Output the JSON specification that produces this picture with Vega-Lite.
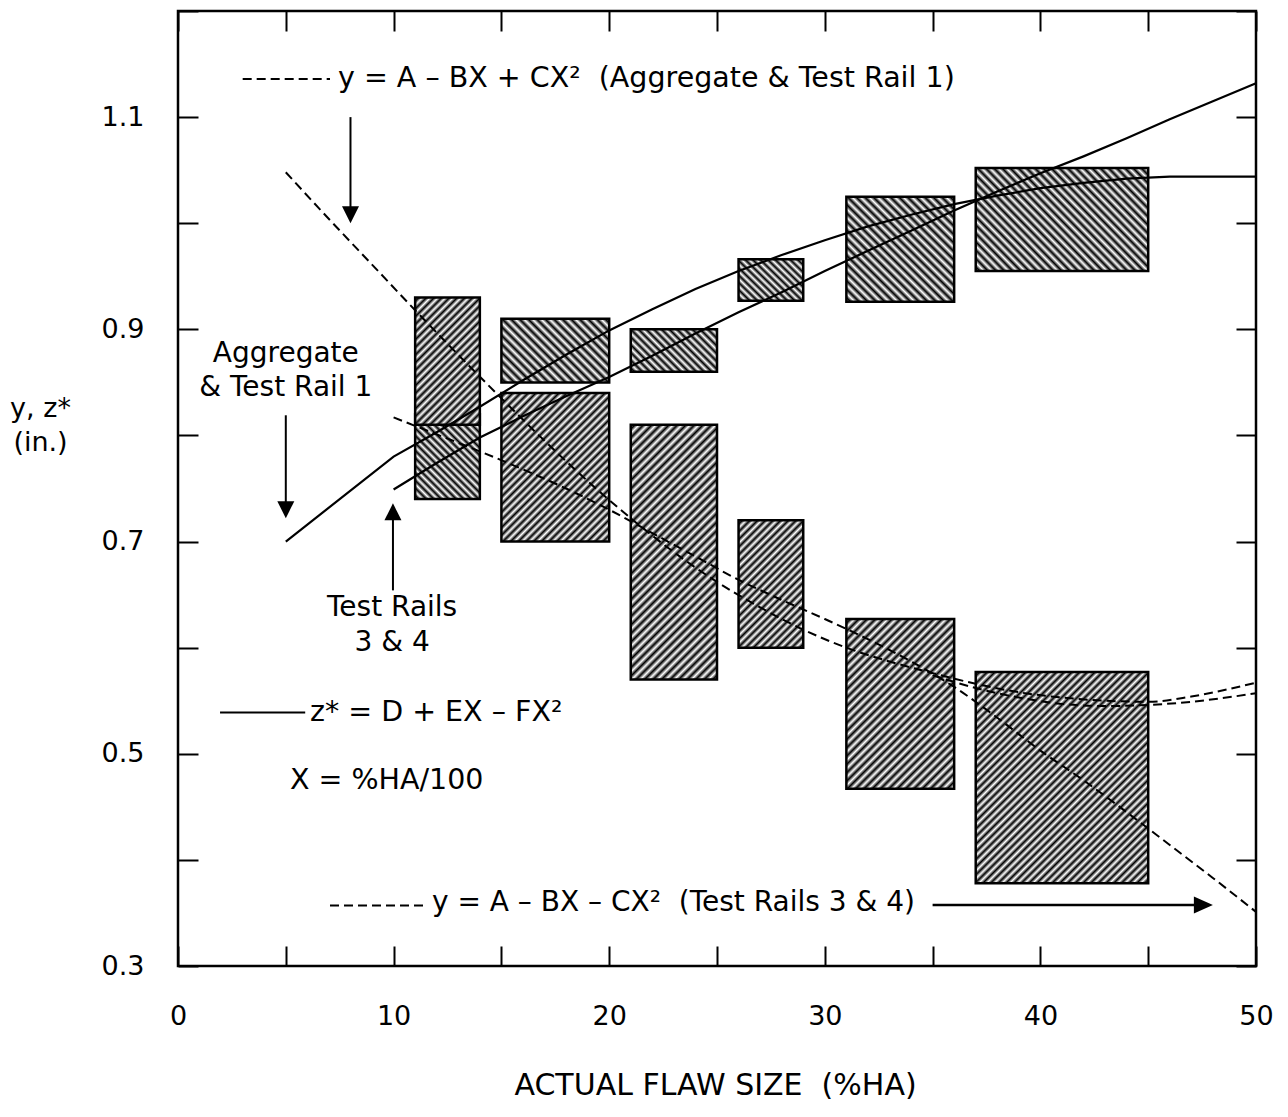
{
"$schema": "https://vega.github.io/schema/vega-lite/v6.json",
"width": 1078, "height": 955,
"autosize": "none",
"padding": {"left": 178, "top": 11, "right": 32, "bottom": 151},
"background": "white",
"config": {
  "view": {"stroke": "#000", "strokeWidth": 2.5},
  "axis": {"domain": false, "grid": false, "tickColor": "#000", "tickWidth": 2, "tickSize": -20, "labelColor": "#000", "labelFont": "DejaVu Sans", "labelFontSize": 27, "titleColor": "#000", "titleFont": "DejaVu Sans", "titleFontWeight": "normal"}
},
"datasets": {
  "boxes": [
    {"id": "A1", "group": "Aggregate & Test Rail 1", "x0": 11, "x1": 14, "lo": 0.74, "hi": 0.82},
    {"id": "T1", "group": "Test Rails 3 & 4", "x0": 11, "x1": 14, "lo": 0.81, "hi": 0.93},
    {"id": "A2", "group": "Aggregate & Test Rail 1", "x0": 15, "x1": 20, "lo": 0.85, "hi": 0.91},
    {"id": "T2", "group": "Test Rails 3 & 4", "x0": 15, "x1": 20, "lo": 0.70, "hi": 0.84},
    {"id": "A3", "group": "Aggregate & Test Rail 1", "x0": 21, "x1": 25, "lo": 0.86, "hi": 0.90},
    {"id": "T3", "group": "Test Rails 3 & 4", "x0": 21, "x1": 25, "lo": 0.57, "hi": 0.81},
    {"id": "A4", "group": "Aggregate & Test Rail 1", "x0": 26, "x1": 29, "lo": 0.927, "hi": 0.966},
    {"id": "T4", "group": "Test Rails 3 & 4", "x0": 26, "x1": 29, "lo": 0.60, "hi": 0.72},
    {"id": "A5", "group": "Aggregate & Test Rail 1", "x0": 31, "x1": 36, "lo": 0.926, "hi": 1.025},
    {"id": "T5", "group": "Test Rails 3 & 4", "x0": 31, "x1": 36, "lo": 0.467, "hi": 0.627},
    {"id": "A6", "group": "Aggregate & Test Rail 1", "x0": 37, "x1": 45, "lo": 0.955, "hi": 1.052},
    {"id": "T6", "group": "Test Rails 3 & 4", "x0": 37, "x1": 45, "lo": 0.378, "hi": 0.577}
  ],
  "curves": [
    {"curve": "z* Aggregate & Test Rail 1", "kind": "solid", "x": 5, "y": 0.700},
    {"curve": "z* Aggregate & Test Rail 1", "kind": "solid", "x": 10, "y": 0.780},
    {"curve": "z* Aggregate & Test Rail 1", "kind": "solid", "x": 12, "y": 0.803},
    {"curve": "z* Aggregate & Test Rail 1", "kind": "solid", "x": 14, "y": 0.827},
    {"curve": "z* Aggregate & Test Rail 1", "kind": "solid", "x": 16, "y": 0.852},
    {"curve": "z* Aggregate & Test Rail 1", "kind": "solid", "x": 18, "y": 0.876},
    {"curve": "z* Aggregate & Test Rail 1", "kind": "solid", "x": 20, "y": 0.899},
    {"curve": "z* Aggregate & Test Rail 1", "kind": "solid", "x": 22, "y": 0.919},
    {"curve": "z* Aggregate & Test Rail 1", "kind": "solid", "x": 24, "y": 0.938},
    {"curve": "z* Aggregate & Test Rail 1", "kind": "solid", "x": 26, "y": 0.955},
    {"curve": "z* Aggregate & Test Rail 1", "kind": "solid", "x": 28, "y": 0.970},
    {"curve": "z* Aggregate & Test Rail 1", "kind": "solid", "x": 30, "y": 0.984},
    {"curve": "z* Aggregate & Test Rail 1", "kind": "solid", "x": 32, "y": 0.997},
    {"curve": "z* Aggregate & Test Rail 1", "kind": "solid", "x": 34, "y": 1.008},
    {"curve": "z* Aggregate & Test Rail 1", "kind": "solid", "x": 36, "y": 1.018},
    {"curve": "z* Aggregate & Test Rail 1", "kind": "solid", "x": 38, "y": 1.026},
    {"curve": "z* Aggregate & Test Rail 1", "kind": "solid", "x": 40, "y": 1.033},
    {"curve": "z* Aggregate & Test Rail 1", "kind": "solid", "x": 42, "y": 1.038},
    {"curve": "z* Aggregate & Test Rail 1", "kind": "solid", "x": 44, "y": 1.042},
    {"curve": "z* Aggregate & Test Rail 1", "kind": "solid", "x": 46, "y": 1.044},
    {"curve": "z* Aggregate & Test Rail 1", "kind": "solid", "x": 50, "y": 1.044},
    {"curve": "z* Test Rails 3 & 4", "kind": "solid", "x": 10, "y": 0.749},
    {"curve": "z* Test Rails 3 & 4", "kind": "solid", "x": 12, "y": 0.774},
    {"curve": "z* Test Rails 3 & 4", "kind": "solid", "x": 14, "y": 0.798},
    {"curve": "z* Test Rails 3 & 4", "kind": "solid", "x": 16, "y": 0.818},
    {"curve": "z* Test Rails 3 & 4", "kind": "solid", "x": 18, "y": 0.837},
    {"curve": "z* Test Rails 3 & 4", "kind": "solid", "x": 20, "y": 0.855},
    {"curve": "z* Test Rails 3 & 4", "kind": "solid", "x": 22, "y": 0.875},
    {"curve": "z* Test Rails 3 & 4", "kind": "solid", "x": 24, "y": 0.896},
    {"curve": "z* Test Rails 3 & 4", "kind": "solid", "x": 26, "y": 0.916},
    {"curve": "z* Test Rails 3 & 4", "kind": "solid", "x": 28, "y": 0.935},
    {"curve": "z* Test Rails 3 & 4", "kind": "solid", "x": 30, "y": 0.955},
    {"curve": "z* Test Rails 3 & 4", "kind": "solid", "x": 32, "y": 0.974},
    {"curve": "z* Test Rails 3 & 4", "kind": "solid", "x": 34, "y": 0.993},
    {"curve": "z* Test Rails 3 & 4", "kind": "solid", "x": 36, "y": 1.012},
    {"curve": "z* Test Rails 3 & 4", "kind": "solid", "x": 38, "y": 1.030},
    {"curve": "z* Test Rails 3 & 4", "kind": "solid", "x": 40, "y": 1.047},
    {"curve": "z* Test Rails 3 & 4", "kind": "solid", "x": 42, "y": 1.063},
    {"curve": "z* Test Rails 3 & 4", "kind": "solid", "x": 44, "y": 1.080},
    {"curve": "z* Test Rails 3 & 4", "kind": "solid", "x": 46, "y": 1.098},
    {"curve": "z* Test Rails 3 & 4", "kind": "solid", "x": 48, "y": 1.115},
    {"curve": "z* Test Rails 3 & 4", "kind": "solid", "x": 50, "y": 1.132},
    {"curve": "y Aggregate", "kind": "dashed", "x": 5, "y": 1.048},
    {"curve": "y Aggregate", "kind": "dashed", "x": 7, "y": 1.004},
    {"curve": "y Aggregate", "kind": "dashed", "x": 9, "y": 0.961},
    {"curve": "y Aggregate", "kind": "dashed", "x": 11, "y": 0.918},
    {"curve": "y Aggregate", "kind": "dashed", "x": 13, "y": 0.876},
    {"curve": "y Aggregate", "kind": "dashed", "x": 15, "y": 0.835},
    {"curve": "y Aggregate", "kind": "dashed", "x": 17, "y": 0.795},
    {"curve": "y Aggregate", "kind": "dashed", "x": 19, "y": 0.757},
    {"curve": "y Aggregate", "kind": "dashed", "x": 21, "y": 0.722},
    {"curve": "y Aggregate", "kind": "dashed", "x": 23, "y": 0.690},
    {"curve": "y Aggregate", "kind": "dashed", "x": 25, "y": 0.662},
    {"curve": "y Aggregate", "kind": "dashed", "x": 27, "y": 0.638},
    {"curve": "y Aggregate", "kind": "dashed", "x": 29, "y": 0.617},
    {"curve": "y Aggregate", "kind": "dashed", "x": 31, "y": 0.600},
    {"curve": "y Aggregate", "kind": "dashed", "x": 33, "y": 0.587},
    {"curve": "y Aggregate", "kind": "dashed", "x": 35, "y": 0.576},
    {"curve": "y Aggregate", "kind": "dashed", "x": 37, "y": 0.566},
    {"curve": "y Aggregate", "kind": "dashed", "x": 39, "y": 0.558},
    {"curve": "y Aggregate", "kind": "dashed", "x": 41, "y": 0.553},
    {"curve": "y Aggregate", "kind": "dashed", "x": 43, "y": 0.550},
    {"curve": "y Aggregate", "kind": "dashed", "x": 45, "y": 0.549},
    {"curve": "y Aggregate", "kind": "dashed", "x": 47, "y": 0.554},
    {"curve": "y Aggregate", "kind": "dashed", "x": 50, "y": 0.567},
    {"curve": "y Test Rail 1", "kind": "dashed", "x": 35, "y": 0.574},
    {"curve": "y Test Rail 1", "kind": "dashed", "x": 37, "y": 0.562},
    {"curve": "y Test Rail 1", "kind": "dashed", "x": 39, "y": 0.553},
    {"curve": "y Test Rail 1", "kind": "dashed", "x": 41, "y": 0.547},
    {"curve": "y Test Rail 1", "kind": "dashed", "x": 43, "y": 0.545},
    {"curve": "y Test Rail 1", "kind": "dashed", "x": 45, "y": 0.546},
    {"curve": "y Test Rail 1", "kind": "dashed", "x": 47, "y": 0.549},
    {"curve": "y Test Rail 1", "kind": "dashed", "x": 50, "y": 0.557},
    {"curve": "y Test Rails 3 & 4", "kind": "dashed", "x": 10, "y": 0.817},
    {"curve": "y Test Rails 3 & 4", "kind": "dashed", "x": 12, "y": 0.801},
    {"curve": "y Test Rails 3 & 4", "kind": "dashed", "x": 14, "y": 0.785},
    {"curve": "y Test Rails 3 & 4", "kind": "dashed", "x": 16, "y": 0.768},
    {"curve": "y Test Rails 3 & 4", "kind": "dashed", "x": 18, "y": 0.750},
    {"curve": "y Test Rails 3 & 4", "kind": "dashed", "x": 20, "y": 0.730},
    {"curve": "y Test Rails 3 & 4", "kind": "dashed", "x": 22, "y": 0.708},
    {"curve": "y Test Rails 3 & 4", "kind": "dashed", "x": 24, "y": 0.686},
    {"curve": "y Test Rails 3 & 4", "kind": "dashed", "x": 26, "y": 0.664},
    {"curve": "y Test Rails 3 & 4", "kind": "dashed", "x": 28, "y": 0.645},
    {"curve": "y Test Rails 3 & 4", "kind": "dashed", "x": 30, "y": 0.627},
    {"curve": "y Test Rails 3 & 4", "kind": "dashed", "x": 32, "y": 0.608},
    {"curve": "y Test Rails 3 & 4", "kind": "dashed", "x": 34, "y": 0.587},
    {"curve": "y Test Rails 3 & 4", "kind": "dashed", "x": 36, "y": 0.563},
    {"curve": "y Test Rails 3 & 4", "kind": "dashed", "x": 38, "y": 0.534},
    {"curve": "y Test Rails 3 & 4", "kind": "dashed", "x": 40, "y": 0.503},
    {"curve": "y Test Rails 3 & 4", "kind": "dashed", "x": 42, "y": 0.475},
    {"curve": "y Test Rails 3 & 4", "kind": "dashed", "x": 44, "y": 0.445},
    {"curve": "y Test Rails 3 & 4", "kind": "dashed", "x": 46, "y": 0.414},
    {"curve": "y Test Rails 3 & 4", "kind": "dashed", "x": 48, "y": 0.383},
    {"curve": "y Test Rails 3 & 4", "kind": "dashed", "x": 50, "y": 0.351}
  ]
},
"data": {"name": "boxes"},
"resolve": {"axis": {"x": "independent", "y": "independent"}},
"layer": [
  {"transform": [{"filter": "datum.id === 'A1'"}],
   "mark": {"type": "rect", "stroke": "#000", "strokeWidth": 2.5,
     "fill": {"gradient": "linear", "x1": 0, "y1": 1, "x2": 0.849, "y2": -0.115, "stops": [{"offset":0,"color":"#fff"},{"offset":0.025,"color":"#000"},{"offset":0.05,"color":"#fff"},{"offset":0.075,"color":"#000"},{"offset":0.1,"color":"#fff"},{"offset":0.125,"color":"#000"},{"offset":0.15,"color":"#fff"},{"offset":0.175,"color":"#000"},{"offset":0.2,"color":"#fff"},{"offset":0.225,"color":"#000"},{"offset":0.25,"color":"#fff"},{"offset":0.275,"color":"#000"},{"offset":0.3,"color":"#fff"},{"offset":0.325,"color":"#000"},{"offset":0.35,"color":"#fff"},{"offset":0.375,"color":"#000"},{"offset":0.4,"color":"#fff"},{"offset":0.425,"color":"#000"},{"offset":0.45,"color":"#fff"},{"offset":0.475,"color":"#000"},{"offset":0.5,"color":"#fff"},{"offset":0.525,"color":"#000"},{"offset":0.55,"color":"#fff"},{"offset":0.575,"color":"#000"},{"offset":0.6,"color":"#fff"},{"offset":0.625,"color":"#000"},{"offset":0.65,"color":"#fff"},{"offset":0.675,"color":"#000"},{"offset":0.7,"color":"#fff"},{"offset":0.725,"color":"#000"},{"offset":0.75,"color":"#fff"},{"offset":0.775,"color":"#000"},{"offset":0.8,"color":"#fff"},{"offset":0.825,"color":"#000"},{"offset":0.85,"color":"#fff"},{"offset":0.875,"color":"#000"},{"offset":0.9,"color":"#fff"},{"offset":0.925,"color":"#000"},{"offset":0.95,"color":"#fff"},{"offset":0.975,"color":"#000"},{"offset":1,"color":"#fff"}]}},
   "encoding": {
     "x": {"field": "x0", "type": "quantitative", "scale": {"domain": [0, 50], "nice": false, "zero": false},
       "axis": {"orient": "bottom", "values": [0,5,10,15,20,25,30,35,40,45,50], "labelExpr": "datum.value % 10 === 0 ? datum.label : ''", "labelPadding": 57, "labelFlush": false, "labelOverlap": false, "labelBound": false,
         "title": "ACTUAL FLAW SIZE\u00a0 (%HA)", "titleFontSize": 30, "titleX": 537, "titleY": 119, "titleBaseline": "middle", "titleAlign": "center"}},
     "x2": {"field": "x1"},
     "y": {"field": "lo", "type": "quantitative", "scale": {"domain": [0.3, 1.2], "nice": false, "zero": false},
       "axis": {"orient": "left", "values": [0.3,0.4,0.5,0.6,0.7,0.8,0.9,1.0,1.1,1.2], "format": ".1f", "labelExpr": "indexof(['0.3','0.5','0.7','0.9','1.1'], datum.label) >= 0 ? datum.label : ''", "labelPadding": 54, "labelOverlap": false, "labelBound": false, "labelFlush": false,
         "title": ["y, z*", "(in.)"], "titleFontSize": 27, "titleAngle": 0, "titleX": -138, "titleY": 405, "titleAlign": "center", "titleBaseline": "alphabetic", "titleLineHeight": 34}},
     "y2": {"field": "hi"}
   }},
  {"transform": [{"filter": "datum.id === 'T1'"}],
   "mark": {"type": "rect", "stroke": "#000", "strokeWidth": 2.5,
     "fill": {"gradient": "linear", "x1": 0, "y1": 0, "x2": 0.609, "y2": 1.199, "stops": [{"offset":0,"color":"#fff"},{"offset":0.02,"color":"#000"},{"offset":0.04,"color":"#fff"},{"offset":0.06,"color":"#000"},{"offset":0.08,"color":"#fff"},{"offset":0.1,"color":"#000"},{"offset":0.12,"color":"#fff"},{"offset":0.14,"color":"#000"},{"offset":0.16,"color":"#fff"},{"offset":0.18,"color":"#000"},{"offset":0.2,"color":"#fff"},{"offset":0.22,"color":"#000"},{"offset":0.24,"color":"#fff"},{"offset":0.26,"color":"#000"},{"offset":0.28,"color":"#fff"},{"offset":0.3,"color":"#000"},{"offset":0.32,"color":"#fff"},{"offset":0.34,"color":"#000"},{"offset":0.36,"color":"#fff"},{"offset":0.38,"color":"#000"},{"offset":0.4,"color":"#fff"},{"offset":0.42,"color":"#000"},{"offset":0.44,"color":"#fff"},{"offset":0.46,"color":"#000"},{"offset":0.48,"color":"#fff"},{"offset":0.5,"color":"#000"},{"offset":0.52,"color":"#fff"},{"offset":0.54,"color":"#000"},{"offset":0.56,"color":"#fff"},{"offset":0.58,"color":"#000"},{"offset":0.6,"color":"#fff"},{"offset":0.62,"color":"#000"},{"offset":0.64,"color":"#fff"},{"offset":0.66,"color":"#000"},{"offset":0.68,"color":"#fff"},{"offset":0.7,"color":"#000"},{"offset":0.72,"color":"#fff"},{"offset":0.74,"color":"#000"},{"offset":0.76,"color":"#fff"},{"offset":0.78,"color":"#000"},{"offset":0.8,"color":"#fff"},{"offset":0.82,"color":"#000"},{"offset":0.84,"color":"#fff"},{"offset":0.86,"color":"#000"},{"offset":0.88,"color":"#fff"},{"offset":0.9,"color":"#000"},{"offset":0.92,"color":"#fff"},{"offset":0.94,"color":"#000"},{"offset":0.96,"color":"#fff"},{"offset":0.98,"color":"#000"},{"offset":1,"color":"#fff"}]}},
   "encoding": {"x": {"field": "x0", "type": "quantitative", "axis": null}, "x2": {"field": "x1"}, "y": {"field": "lo", "type": "quantitative", "axis": null}, "y2": {"field": "hi"}}},
  {"transform": [{"filter": "datum.id === 'A2'"}],
   "mark": {"type": "rect", "stroke": "#000", "strokeWidth": 2.5,
     "fill": {"gradient": "linear", "x1": 0, "y1": 1, "x2": 1.179, "y2": 0.303, "stops": [{"offset":0,"color":"#fff"},{"offset":0.025,"color":"#000"},{"offset":0.05,"color":"#fff"},{"offset":0.075,"color":"#000"},{"offset":0.1,"color":"#fff"},{"offset":0.125,"color":"#000"},{"offset":0.15,"color":"#fff"},{"offset":0.175,"color":"#000"},{"offset":0.2,"color":"#fff"},{"offset":0.225,"color":"#000"},{"offset":0.25,"color":"#fff"},{"offset":0.275,"color":"#000"},{"offset":0.3,"color":"#fff"},{"offset":0.325,"color":"#000"},{"offset":0.35,"color":"#fff"},{"offset":0.375,"color":"#000"},{"offset":0.4,"color":"#fff"},{"offset":0.425,"color":"#000"},{"offset":0.45,"color":"#fff"},{"offset":0.475,"color":"#000"},{"offset":0.5,"color":"#fff"},{"offset":0.525,"color":"#000"},{"offset":0.55,"color":"#fff"},{"offset":0.575,"color":"#000"},{"offset":0.6,"color":"#fff"},{"offset":0.625,"color":"#000"},{"offset":0.65,"color":"#fff"},{"offset":0.675,"color":"#000"},{"offset":0.7,"color":"#fff"},{"offset":0.725,"color":"#000"},{"offset":0.75,"color":"#fff"},{"offset":0.775,"color":"#000"},{"offset":0.8,"color":"#fff"},{"offset":0.825,"color":"#000"},{"offset":0.85,"color":"#fff"},{"offset":0.875,"color":"#000"},{"offset":0.9,"color":"#fff"},{"offset":0.925,"color":"#000"},{"offset":0.95,"color":"#fff"},{"offset":0.975,"color":"#000"},{"offset":1,"color":"#fff"}]}},
   "encoding": {"x": {"field": "x0", "type": "quantitative", "axis": null}, "x2": {"field": "x1"}, "y": {"field": "lo", "type": "quantitative", "axis": null}, "y2": {"field": "hi"}}},
  {"transform": [{"filter": "datum.id === 'T2'"}],
   "mark": {"type": "rect", "stroke": "#000", "strokeWidth": 2.5,
     "fill": {"gradient": "linear", "x1": 0, "y1": 0, "x2": 0.821, "y2": 1.130, "stops": [{"offset":0,"color":"#fff"},{"offset":0.015,"color":"#000"},{"offset":0.03,"color":"#fff"},{"offset":0.045,"color":"#000"},{"offset":0.06,"color":"#fff"},{"offset":0.075,"color":"#000"},{"offset":0.09,"color":"#fff"},{"offset":0.105,"color":"#000"},{"offset":0.12,"color":"#fff"},{"offset":0.135,"color":"#000"},{"offset":0.15,"color":"#fff"},{"offset":0.165,"color":"#000"},{"offset":0.18,"color":"#fff"},{"offset":0.195,"color":"#000"},{"offset":0.21,"color":"#fff"},{"offset":0.225,"color":"#000"},{"offset":0.24,"color":"#fff"},{"offset":0.255,"color":"#000"},{"offset":0.27,"color":"#fff"},{"offset":0.285,"color":"#000"},{"offset":0.3,"color":"#fff"},{"offset":0.315,"color":"#000"},{"offset":0.33,"color":"#fff"},{"offset":0.345,"color":"#000"},{"offset":0.36,"color":"#fff"},{"offset":0.375,"color":"#000"},{"offset":0.39,"color":"#fff"},{"offset":0.405,"color":"#000"},{"offset":0.42,"color":"#fff"},{"offset":0.435,"color":"#000"},{"offset":0.45,"color":"#fff"},{"offset":0.465,"color":"#000"},{"offset":0.48,"color":"#fff"},{"offset":0.495,"color":"#000"},{"offset":0.51,"color":"#fff"},{"offset":0.525,"color":"#000"},{"offset":0.54,"color":"#fff"},{"offset":0.555,"color":"#000"},{"offset":0.57,"color":"#fff"},{"offset":0.585,"color":"#000"},{"offset":0.6,"color":"#fff"},{"offset":0.615,"color":"#000"},{"offset":0.63,"color":"#fff"},{"offset":0.645,"color":"#000"},{"offset":0.66,"color":"#fff"},{"offset":0.675,"color":"#000"},{"offset":0.69,"color":"#fff"},{"offset":0.705,"color":"#000"},{"offset":0.72,"color":"#fff"},{"offset":0.735,"color":"#000"},{"offset":0.75,"color":"#fff"},{"offset":0.765,"color":"#000"},{"offset":0.78,"color":"#fff"},{"offset":0.795,"color":"#000"},{"offset":0.81,"color":"#fff"},{"offset":0.825,"color":"#000"},{"offset":0.84,"color":"#fff"},{"offset":0.855,"color":"#000"},{"offset":0.87,"color":"#fff"},{"offset":0.885,"color":"#000"},{"offset":0.9,"color":"#fff"},{"offset":0.915,"color":"#000"},{"offset":0.93,"color":"#fff"},{"offset":0.945,"color":"#000"},{"offset":0.96,"color":"#fff"},{"offset":0.975,"color":"#000"},{"offset":0.99,"color":"#fff"}]}},
   "encoding": {"x": {"field": "x0", "type": "quantitative", "axis": null}, "x2": {"field": "x1"}, "y": {"field": "lo", "type": "quantitative", "axis": null}, "y2": {"field": "hi"}}},
  {"transform": [{"filter": "datum.id === 'A3'"}],
   "mark": {"type": "rect", "stroke": "#000", "strokeWidth": 2.5,
     "fill": {"gradient": "linear", "x1": 0, "y1": 1, "x2": 1.201, "y2": 0.409, "stops": [{"offset":0,"color":"#fff"},{"offset":0.03,"color":"#000"},{"offset":0.06,"color":"#fff"},{"offset":0.09,"color":"#000"},{"offset":0.12,"color":"#fff"},{"offset":0.15,"color":"#000"},{"offset":0.18,"color":"#fff"},{"offset":0.21,"color":"#000"},{"offset":0.24,"color":"#fff"},{"offset":0.27,"color":"#000"},{"offset":0.3,"color":"#fff"},{"offset":0.33,"color":"#000"},{"offset":0.36,"color":"#fff"},{"offset":0.39,"color":"#000"},{"offset":0.42,"color":"#fff"},{"offset":0.45,"color":"#000"},{"offset":0.48,"color":"#fff"},{"offset":0.51,"color":"#000"},{"offset":0.54,"color":"#fff"},{"offset":0.57,"color":"#000"},{"offset":0.6,"color":"#fff"},{"offset":0.63,"color":"#000"},{"offset":0.66,"color":"#fff"},{"offset":0.69,"color":"#000"},{"offset":0.72,"color":"#fff"},{"offset":0.75,"color":"#000"},{"offset":0.78,"color":"#fff"},{"offset":0.81,"color":"#000"},{"offset":0.84,"color":"#fff"},{"offset":0.87,"color":"#000"},{"offset":0.9,"color":"#fff"},{"offset":0.93,"color":"#000"},{"offset":0.96,"color":"#fff"},{"offset":0.99,"color":"#000"}]}},
   "encoding": {"x": {"field": "x0", "type": "quantitative", "axis": null}, "x2": {"field": "x1"}, "y": {"field": "lo", "type": "quantitative", "axis": null}, "y2": {"field": "hi"}}},
  {"transform": [{"filter": "datum.id === 'T3'"}],
   "mark": {"type": "rect", "stroke": "#000", "strokeWidth": 2.5,
     "fill": {"gradient": "linear", "x1": 0, "y1": 0, "x2": 0.407, "y2": 1.201, "stops": [{"offset":0,"color":"#fff"},{"offset":0.0125,"color":"#000"},{"offset":0.025,"color":"#fff"},{"offset":0.0375,"color":"#000"},{"offset":0.05,"color":"#fff"},{"offset":0.0625,"color":"#000"},{"offset":0.075,"color":"#fff"},{"offset":0.0875,"color":"#000"},{"offset":0.1,"color":"#fff"},{"offset":0.1125,"color":"#000"},{"offset":0.125,"color":"#fff"},{"offset":0.1375,"color":"#000"},{"offset":0.15,"color":"#fff"},{"offset":0.1625,"color":"#000"},{"offset":0.175,"color":"#fff"},{"offset":0.1875,"color":"#000"},{"offset":0.2,"color":"#fff"},{"offset":0.2125,"color":"#000"},{"offset":0.225,"color":"#fff"},{"offset":0.2375,"color":"#000"},{"offset":0.25,"color":"#fff"},{"offset":0.2625,"color":"#000"},{"offset":0.275,"color":"#fff"},{"offset":0.2875,"color":"#000"},{"offset":0.3,"color":"#fff"},{"offset":0.3125,"color":"#000"},{"offset":0.325,"color":"#fff"},{"offset":0.3375,"color":"#000"},{"offset":0.35,"color":"#fff"},{"offset":0.3625,"color":"#000"},{"offset":0.375,"color":"#fff"},{"offset":0.3875,"color":"#000"},{"offset":0.4,"color":"#fff"},{"offset":0.4125,"color":"#000"},{"offset":0.425,"color":"#fff"},{"offset":0.4375,"color":"#000"},{"offset":0.45,"color":"#fff"},{"offset":0.4625,"color":"#000"},{"offset":0.475,"color":"#fff"},{"offset":0.4875,"color":"#000"},{"offset":0.5,"color":"#fff"},{"offset":0.5125,"color":"#000"},{"offset":0.525,"color":"#fff"},{"offset":0.5375,"color":"#000"},{"offset":0.55,"color":"#fff"},{"offset":0.5625,"color":"#000"},{"offset":0.575,"color":"#fff"},{"offset":0.5875,"color":"#000"},{"offset":0.6,"color":"#fff"},{"offset":0.6125,"color":"#000"},{"offset":0.625,"color":"#fff"},{"offset":0.6375,"color":"#000"},{"offset":0.65,"color":"#fff"},{"offset":0.6625,"color":"#000"},{"offset":0.675,"color":"#fff"},{"offset":0.6875,"color":"#000"},{"offset":0.7,"color":"#fff"},{"offset":0.7125,"color":"#000"},{"offset":0.725,"color":"#fff"},{"offset":0.7375,"color":"#000"},{"offset":0.75,"color":"#fff"},{"offset":0.7625,"color":"#000"},{"offset":0.775,"color":"#fff"},{"offset":0.7875,"color":"#000"},{"offset":0.8,"color":"#fff"},{"offset":0.8125,"color":"#000"},{"offset":0.825,"color":"#fff"},{"offset":0.8375,"color":"#000"},{"offset":0.85,"color":"#fff"},{"offset":0.8625,"color":"#000"},{"offset":0.875,"color":"#fff"},{"offset":0.8875,"color":"#000"},{"offset":0.9,"color":"#fff"},{"offset":0.9125,"color":"#000"},{"offset":0.925,"color":"#fff"},{"offset":0.9375,"color":"#000"},{"offset":0.95,"color":"#fff"},{"offset":0.9625,"color":"#000"},{"offset":0.975,"color":"#fff"},{"offset":0.9875,"color":"#000"},{"offset":1,"color":"#fff"}]}},
   "encoding": {"x": {"field": "x0", "type": "quantitative", "axis": null}, "x2": {"field": "x1"}, "y": {"field": "lo", "type": "quantitative", "axis": null}, "y2": {"field": "hi"}}},
  {"transform": [{"filter": "datum.id === 'A4'"}],
   "mark": {"type": "rect", "stroke": "#000", "strokeWidth": 2.5,
     "fill": {"gradient": "linear", "x1": 0, "y1": 1, "x2": 1.158, "y2": 0.241, "stops": [{"offset":0,"color":"#fff"},{"offset":0.035,"color":"#000"},{"offset":0.07,"color":"#fff"},{"offset":0.105,"color":"#000"},{"offset":0.14,"color":"#fff"},{"offset":0.175,"color":"#000"},{"offset":0.21,"color":"#fff"},{"offset":0.245,"color":"#000"},{"offset":0.28,"color":"#fff"},{"offset":0.315,"color":"#000"},{"offset":0.35,"color":"#fff"},{"offset":0.385,"color":"#000"},{"offset":0.42,"color":"#fff"},{"offset":0.455,"color":"#000"},{"offset":0.49,"color":"#fff"},{"offset":0.525,"color":"#000"},{"offset":0.56,"color":"#fff"},{"offset":0.595,"color":"#000"},{"offset":0.63,"color":"#fff"},{"offset":0.665,"color":"#000"},{"offset":0.7,"color":"#fff"},{"offset":0.735,"color":"#000"},{"offset":0.77,"color":"#fff"},{"offset":0.805,"color":"#000"},{"offset":0.84,"color":"#fff"},{"offset":0.875,"color":"#000"},{"offset":0.91,"color":"#fff"},{"offset":0.945,"color":"#000"},{"offset":0.98,"color":"#fff"}]}},
   "encoding": {"x": {"field": "x0", "type": "quantitative", "axis": null}, "x2": {"field": "x1"}, "y": {"field": "lo", "type": "quantitative", "axis": null}, "y2": {"field": "hi"}}},
  {"transform": [{"filter": "datum.id === 'T4'"}],
   "mark": {"type": "rect", "stroke": "#000", "strokeWidth": 2.5,
     "fill": {"gradient": "linear", "x1": 0, "y1": 0, "x2": 0.609, "y2": 1.199, "stops": [{"offset":0,"color":"#fff"},{"offset":0.02,"color":"#000"},{"offset":0.04,"color":"#fff"},{"offset":0.06,"color":"#000"},{"offset":0.08,"color":"#fff"},{"offset":0.1,"color":"#000"},{"offset":0.12,"color":"#fff"},{"offset":0.14,"color":"#000"},{"offset":0.16,"color":"#fff"},{"offset":0.18,"color":"#000"},{"offset":0.2,"color":"#fff"},{"offset":0.22,"color":"#000"},{"offset":0.24,"color":"#fff"},{"offset":0.26,"color":"#000"},{"offset":0.28,"color":"#fff"},{"offset":0.3,"color":"#000"},{"offset":0.32,"color":"#fff"},{"offset":0.34,"color":"#000"},{"offset":0.36,"color":"#fff"},{"offset":0.38,"color":"#000"},{"offset":0.4,"color":"#fff"},{"offset":0.42,"color":"#000"},{"offset":0.44,"color":"#fff"},{"offset":0.46,"color":"#000"},{"offset":0.48,"color":"#fff"},{"offset":0.5,"color":"#000"},{"offset":0.52,"color":"#fff"},{"offset":0.54,"color":"#000"},{"offset":0.56,"color":"#fff"},{"offset":0.58,"color":"#000"},{"offset":0.6,"color":"#fff"},{"offset":0.62,"color":"#000"},{"offset":0.64,"color":"#fff"},{"offset":0.66,"color":"#000"},{"offset":0.68,"color":"#fff"},{"offset":0.7,"color":"#000"},{"offset":0.72,"color":"#fff"},{"offset":0.74,"color":"#000"},{"offset":0.76,"color":"#fff"},{"offset":0.78,"color":"#000"},{"offset":0.8,"color":"#fff"},{"offset":0.82,"color":"#000"},{"offset":0.84,"color":"#fff"},{"offset":0.86,"color":"#000"},{"offset":0.88,"color":"#fff"},{"offset":0.9,"color":"#000"},{"offset":0.92,"color":"#fff"},{"offset":0.94,"color":"#000"},{"offset":0.96,"color":"#fff"},{"offset":0.98,"color":"#000"},{"offset":1,"color":"#fff"}]}},
   "encoding": {"x": {"field": "x0", "type": "quantitative", "axis": null}, "x2": {"field": "x1"}, "y": {"field": "lo", "type": "quantitative", "axis": null}, "y2": {"field": "hi"}}},
  {"transform": [{"filter": "datum.id === 'A5'"}],
   "mark": {"type": "rect", "stroke": "#000", "strokeWidth": 2.5,
     "fill": {"gradient": "linear", "x1": 0, "y1": 1, "x2": 1.008, "y2": 0.008, "stops": [{"offset":0,"color":"#fff"},{"offset":0.02,"color":"#000"},{"offset":0.04,"color":"#fff"},{"offset":0.06,"color":"#000"},{"offset":0.08,"color":"#fff"},{"offset":0.1,"color":"#000"},{"offset":0.12,"color":"#fff"},{"offset":0.14,"color":"#000"},{"offset":0.16,"color":"#fff"},{"offset":0.18,"color":"#000"},{"offset":0.2,"color":"#fff"},{"offset":0.22,"color":"#000"},{"offset":0.24,"color":"#fff"},{"offset":0.26,"color":"#000"},{"offset":0.28,"color":"#fff"},{"offset":0.3,"color":"#000"},{"offset":0.32,"color":"#fff"},{"offset":0.34,"color":"#000"},{"offset":0.36,"color":"#fff"},{"offset":0.38,"color":"#000"},{"offset":0.4,"color":"#fff"},{"offset":0.42,"color":"#000"},{"offset":0.44,"color":"#fff"},{"offset":0.46,"color":"#000"},{"offset":0.48,"color":"#fff"},{"offset":0.5,"color":"#000"},{"offset":0.52,"color":"#fff"},{"offset":0.54,"color":"#000"},{"offset":0.56,"color":"#fff"},{"offset":0.58,"color":"#000"},{"offset":0.6,"color":"#fff"},{"offset":0.62,"color":"#000"},{"offset":0.64,"color":"#fff"},{"offset":0.66,"color":"#000"},{"offset":0.68,"color":"#fff"},{"offset":0.7,"color":"#000"},{"offset":0.72,"color":"#fff"},{"offset":0.74,"color":"#000"},{"offset":0.76,"color":"#fff"},{"offset":0.78,"color":"#000"},{"offset":0.8,"color":"#fff"},{"offset":0.82,"color":"#000"},{"offset":0.84,"color":"#fff"},{"offset":0.86,"color":"#000"},{"offset":0.88,"color":"#fff"},{"offset":0.9,"color":"#000"},{"offset":0.92,"color":"#fff"},{"offset":0.94,"color":"#000"},{"offset":0.96,"color":"#fff"},{"offset":0.98,"color":"#000"},{"offset":1,"color":"#fff"}]}},
   "encoding": {"x": {"field": "x0", "type": "quantitative", "axis": null}, "x2": {"field": "x1"}, "y": {"field": "lo", "type": "quantitative", "axis": null}, "y2": {"field": "hi"}}},
  {"transform": [{"filter": "datum.id === 'T5'"}],
   "mark": {"type": "rect", "stroke": "#000", "strokeWidth": 2.5,
     "fill": {"gradient": "linear", "x1": 0, "y1": 0, "x2": 0.740, "y2": 1.165, "stops": [{"offset":0,"color":"#fff"},{"offset":0.015,"color":"#000"},{"offset":0.03,"color":"#fff"},{"offset":0.045,"color":"#000"},{"offset":0.06,"color":"#fff"},{"offset":0.075,"color":"#000"},{"offset":0.09,"color":"#fff"},{"offset":0.105,"color":"#000"},{"offset":0.12,"color":"#fff"},{"offset":0.135,"color":"#000"},{"offset":0.15,"color":"#fff"},{"offset":0.165,"color":"#000"},{"offset":0.18,"color":"#fff"},{"offset":0.195,"color":"#000"},{"offset":0.21,"color":"#fff"},{"offset":0.225,"color":"#000"},{"offset":0.24,"color":"#fff"},{"offset":0.255,"color":"#000"},{"offset":0.27,"color":"#fff"},{"offset":0.285,"color":"#000"},{"offset":0.3,"color":"#fff"},{"offset":0.315,"color":"#000"},{"offset":0.33,"color":"#fff"},{"offset":0.345,"color":"#000"},{"offset":0.36,"color":"#fff"},{"offset":0.375,"color":"#000"},{"offset":0.39,"color":"#fff"},{"offset":0.405,"color":"#000"},{"offset":0.42,"color":"#fff"},{"offset":0.435,"color":"#000"},{"offset":0.45,"color":"#fff"},{"offset":0.465,"color":"#000"},{"offset":0.48,"color":"#fff"},{"offset":0.495,"color":"#000"},{"offset":0.51,"color":"#fff"},{"offset":0.525,"color":"#000"},{"offset":0.54,"color":"#fff"},{"offset":0.555,"color":"#000"},{"offset":0.57,"color":"#fff"},{"offset":0.585,"color":"#000"},{"offset":0.6,"color":"#fff"},{"offset":0.615,"color":"#000"},{"offset":0.63,"color":"#fff"},{"offset":0.645,"color":"#000"},{"offset":0.66,"color":"#fff"},{"offset":0.675,"color":"#000"},{"offset":0.69,"color":"#fff"},{"offset":0.705,"color":"#000"},{"offset":0.72,"color":"#fff"},{"offset":0.735,"color":"#000"},{"offset":0.75,"color":"#fff"},{"offset":0.765,"color":"#000"},{"offset":0.78,"color":"#fff"},{"offset":0.795,"color":"#000"},{"offset":0.81,"color":"#fff"},{"offset":0.825,"color":"#000"},{"offset":0.84,"color":"#fff"},{"offset":0.855,"color":"#000"},{"offset":0.87,"color":"#fff"},{"offset":0.885,"color":"#000"},{"offset":0.9,"color":"#fff"},{"offset":0.915,"color":"#000"},{"offset":0.93,"color":"#fff"},{"offset":0.945,"color":"#000"},{"offset":0.96,"color":"#fff"},{"offset":0.975,"color":"#000"},{"offset":0.99,"color":"#fff"}]}},
   "encoding": {"x": {"field": "x0", "type": "quantitative", "axis": null}, "x2": {"field": "x1"}, "y": {"field": "lo", "type": "quantitative", "axis": null}, "y2": {"field": "hi"}}},
  {"transform": [{"filter": "datum.id === 'A6'"}],
   "mark": {"type": "rect", "stroke": "#000", "strokeWidth": 2.5,
     "fill": {"gradient": "linear", "x1": 0, "y1": 1, "x2": 1.181, "y2": 0.310, "stops": [{"offset":0,"color":"#fff"},{"offset":0.015,"color":"#000"},{"offset":0.03,"color":"#fff"},{"offset":0.045,"color":"#000"},{"offset":0.06,"color":"#fff"},{"offset":0.075,"color":"#000"},{"offset":0.09,"color":"#fff"},{"offset":0.105,"color":"#000"},{"offset":0.12,"color":"#fff"},{"offset":0.135,"color":"#000"},{"offset":0.15,"color":"#fff"},{"offset":0.165,"color":"#000"},{"offset":0.18,"color":"#fff"},{"offset":0.195,"color":"#000"},{"offset":0.21,"color":"#fff"},{"offset":0.225,"color":"#000"},{"offset":0.24,"color":"#fff"},{"offset":0.255,"color":"#000"},{"offset":0.27,"color":"#fff"},{"offset":0.285,"color":"#000"},{"offset":0.3,"color":"#fff"},{"offset":0.315,"color":"#000"},{"offset":0.33,"color":"#fff"},{"offset":0.345,"color":"#000"},{"offset":0.36,"color":"#fff"},{"offset":0.375,"color":"#000"},{"offset":0.39,"color":"#fff"},{"offset":0.405,"color":"#000"},{"offset":0.42,"color":"#fff"},{"offset":0.435,"color":"#000"},{"offset":0.45,"color":"#fff"},{"offset":0.465,"color":"#000"},{"offset":0.48,"color":"#fff"},{"offset":0.495,"color":"#000"},{"offset":0.51,"color":"#fff"},{"offset":0.525,"color":"#000"},{"offset":0.54,"color":"#fff"},{"offset":0.555,"color":"#000"},{"offset":0.57,"color":"#fff"},{"offset":0.585,"color":"#000"},{"offset":0.6,"color":"#fff"},{"offset":0.615,"color":"#000"},{"offset":0.63,"color":"#fff"},{"offset":0.645,"color":"#000"},{"offset":0.66,"color":"#fff"},{"offset":0.675,"color":"#000"},{"offset":0.69,"color":"#fff"},{"offset":0.705,"color":"#000"},{"offset":0.72,"color":"#fff"},{"offset":0.735,"color":"#000"},{"offset":0.75,"color":"#fff"},{"offset":0.765,"color":"#000"},{"offset":0.78,"color":"#fff"},{"offset":0.795,"color":"#000"},{"offset":0.81,"color":"#fff"},{"offset":0.825,"color":"#000"},{"offset":0.84,"color":"#fff"},{"offset":0.855,"color":"#000"},{"offset":0.87,"color":"#fff"},{"offset":0.885,"color":"#000"},{"offset":0.9,"color":"#fff"},{"offset":0.915,"color":"#000"},{"offset":0.93,"color":"#fff"},{"offset":0.945,"color":"#000"},{"offset":0.96,"color":"#fff"},{"offset":0.975,"color":"#000"},{"offset":0.99,"color":"#fff"}]}},
   "encoding": {"x": {"field": "x0", "type": "quantitative", "axis": null}, "x2": {"field": "x1"}, "y": {"field": "lo", "type": "quantitative", "axis": null}, "y2": {"field": "hi"}}},
  {"transform": [{"filter": "datum.id === 'T6'"}],
   "mark": {"type": "rect", "stroke": "#000", "strokeWidth": 2.5,
     "fill": {"gradient": "linear", "x1": 0, "y1": 0, "x2": 0.887, "y2": 1.092, "stops": [{"offset":0,"color":"#fff"},{"offset":0.01,"color":"#000"},{"offset":0.02,"color":"#fff"},{"offset":0.03,"color":"#000"},{"offset":0.04,"color":"#fff"},{"offset":0.05,"color":"#000"},{"offset":0.06,"color":"#fff"},{"offset":0.07,"color":"#000"},{"offset":0.08,"color":"#fff"},{"offset":0.09,"color":"#000"},{"offset":0.1,"color":"#fff"},{"offset":0.11,"color":"#000"},{"offset":0.12,"color":"#fff"},{"offset":0.13,"color":"#000"},{"offset":0.14,"color":"#fff"},{"offset":0.15,"color":"#000"},{"offset":0.16,"color":"#fff"},{"offset":0.17,"color":"#000"},{"offset":0.18,"color":"#fff"},{"offset":0.19,"color":"#000"},{"offset":0.2,"color":"#fff"},{"offset":0.21,"color":"#000"},{"offset":0.22,"color":"#fff"},{"offset":0.23,"color":"#000"},{"offset":0.24,"color":"#fff"},{"offset":0.25,"color":"#000"},{"offset":0.26,"color":"#fff"},{"offset":0.27,"color":"#000"},{"offset":0.28,"color":"#fff"},{"offset":0.29,"color":"#000"},{"offset":0.3,"color":"#fff"},{"offset":0.31,"color":"#000"},{"offset":0.32,"color":"#fff"},{"offset":0.33,"color":"#000"},{"offset":0.34,"color":"#fff"},{"offset":0.35,"color":"#000"},{"offset":0.36,"color":"#fff"},{"offset":0.37,"color":"#000"},{"offset":0.38,"color":"#fff"},{"offset":0.39,"color":"#000"},{"offset":0.4,"color":"#fff"},{"offset":0.41,"color":"#000"},{"offset":0.42,"color":"#fff"},{"offset":0.43,"color":"#000"},{"offset":0.44,"color":"#fff"},{"offset":0.45,"color":"#000"},{"offset":0.46,"color":"#fff"},{"offset":0.47,"color":"#000"},{"offset":0.48,"color":"#fff"},{"offset":0.49,"color":"#000"},{"offset":0.5,"color":"#fff"},{"offset":0.51,"color":"#000"},{"offset":0.52,"color":"#fff"},{"offset":0.53,"color":"#000"},{"offset":0.54,"color":"#fff"},{"offset":0.55,"color":"#000"},{"offset":0.56,"color":"#fff"},{"offset":0.57,"color":"#000"},{"offset":0.58,"color":"#fff"},{"offset":0.59,"color":"#000"},{"offset":0.6,"color":"#fff"},{"offset":0.61,"color":"#000"},{"offset":0.62,"color":"#fff"},{"offset":0.63,"color":"#000"},{"offset":0.64,"color":"#fff"},{"offset":0.65,"color":"#000"},{"offset":0.66,"color":"#fff"},{"offset":0.67,"color":"#000"},{"offset":0.68,"color":"#fff"},{"offset":0.69,"color":"#000"},{"offset":0.7,"color":"#fff"},{"offset":0.71,"color":"#000"},{"offset":0.72,"color":"#fff"},{"offset":0.73,"color":"#000"},{"offset":0.74,"color":"#fff"},{"offset":0.75,"color":"#000"},{"offset":0.76,"color":"#fff"},{"offset":0.77,"color":"#000"},{"offset":0.78,"color":"#fff"},{"offset":0.79,"color":"#000"},{"offset":0.8,"color":"#fff"},{"offset":0.81,"color":"#000"},{"offset":0.82,"color":"#fff"},{"offset":0.83,"color":"#000"},{"offset":0.84,"color":"#fff"},{"offset":0.85,"color":"#000"},{"offset":0.86,"color":"#fff"},{"offset":0.87,"color":"#000"},{"offset":0.88,"color":"#fff"},{"offset":0.89,"color":"#000"},{"offset":0.9,"color":"#fff"},{"offset":0.91,"color":"#000"},{"offset":0.92,"color":"#fff"},{"offset":0.93,"color":"#000"},{"offset":0.94,"color":"#fff"},{"offset":0.95,"color":"#000"},{"offset":0.96,"color":"#fff"},{"offset":0.97,"color":"#000"},{"offset":0.98,"color":"#fff"},{"offset":0.99,"color":"#000"},{"offset":1,"color":"#fff"}]}},
   "encoding": {"x": {"field": "x0", "type": "quantitative", "axis": null}, "x2": {"field": "x1"}, "y": {"field": "lo", "type": "quantitative", "axis": null}, "y2": {"field": "hi"}}},
  {"data": {"values": [{}]},
   "mark": {"type": "point", "opacity": 0},
   "encoding": {
     "x": {"datum": 0, "type": "quantitative", "axis": {"orient": "top", "values": [0,5,10,15,20,25,30,35,40,45,50], "labels": false, "title": null}},
     "y": {"datum": 0.3, "type": "quantitative", "axis": {"orient": "right", "values": [0.3,0.4,0.5,0.6,0.7,0.8,0.9,1.0,1.1,1.2], "labels": false, "title": null}}
   }},
  {"data": {"name": "curves"}, "transform": [{"filter": "datum.kind === 'solid'"}],
   "mark": {"type": "line", "color": "#000", "strokeWidth": 2.2, "interpolate": "linear"},
   "encoding": {"x": {"field": "x", "type": "quantitative", "axis": null}, "y": {"field": "y", "type": "quantitative", "axis": null}, "detail": {"field": "curve"}}},
  {"data": {"name": "curves"}, "transform": [{"filter": "datum.kind === 'dashed'"}],
   "mark": {"type": "line", "color": "#000", "strokeWidth": 2, "strokeDash": [9, 5], "interpolate": "monotone"},
   "encoding": {"x": {"field": "x", "type": "quantitative", "axis": null}, "y": {"field": "y", "type": "quantitative", "axis": null}, "detail": {"field": "curve"}}},
  {"data": {"values": [{}]}, "mark": {"type": "rule", "color": "#000", "strokeWidth": 2, "strokeDash": [9, 5]},
   "encoding": {"x": {"datum": 3.0, "type": "quantitative", "axis": null}, "x2": {"datum": 7.05}, "y": {"datum": 1.136, "type": "quantitative", "axis": null}}},
  {"data": {"values": [{}]}, "mark": {"type": "rule", "color": "#000", "strokeWidth": 2},
   "encoding": {"x": {"datum": 1.95, "type": "quantitative", "axis": null}, "x2": {"datum": 5.9}, "y": {"datum": 0.539, "type": "quantitative", "axis": null}}},
  {"data": {"values": [{}]}, "mark": {"type": "rule", "color": "#000", "strokeWidth": 2, "strokeDash": [9, 5]},
   "encoding": {"x": {"datum": 7.05, "type": "quantitative", "axis": null}, "x2": {"datum": 11.45}, "y": {"datum": 0.357, "type": "quantitative", "axis": null}}},
  {"data": {"values": [{}]}, "mark": {"type": "rule", "color": "#000", "strokeWidth": 2},
   "encoding": {"x": {"datum": 8.0, "type": "quantitative", "axis": null}, "y": {"datum": 1.1, "type": "quantitative", "axis": null}, "y2": {"datum": 1.005}}},
  {"data": {"values": [{}]}, "mark": {"type": "rule", "color": "#000", "strokeWidth": 2},
   "encoding": {"x": {"datum": 5.0, "type": "quantitative", "axis": null}, "y": {"datum": 0.819, "type": "quantitative", "axis": null}, "y2": {"datum": 0.727}}},
  {"data": {"values": [{}]}, "mark": {"type": "rule", "color": "#000", "strokeWidth": 2},
   "encoding": {"x": {"datum": 9.97, "type": "quantitative", "axis": null}, "y": {"datum": 0.654, "type": "quantitative", "axis": null}, "y2": {"datum": 0.731}}},
  {"data": {"values": [{}]}, "mark": {"type": "rule", "color": "#000", "strokeWidth": 2.5},
   "encoding": {"x": {"datum": 35.0, "type": "quantitative", "axis": null}, "x2": {"datum": 47.7}, "y": {"datum": 0.3575, "type": "quantitative", "axis": null}}},
  {"data": {"values": [{}]}, "mark": {"type": "point", "shape": "M-0.5,-1L0.5,-1L0,0Z", "filled": true, "color": "#000", "opacity": 1, "size": 1156, "strokeWidth": 0},
   "encoding": {"x": {"datum": 8.0, "type": "quantitative", "axis": null}, "y": {"datum": 1.0, "type": "quantitative", "axis": null}}},
  {"data": {"values": [{}]}, "mark": {"type": "point", "shape": "M-0.5,-1L0.5,-1L0,0Z", "filled": true, "color": "#000", "opacity": 1, "size": 1156, "strokeWidth": 0},
   "encoding": {"x": {"datum": 5.0, "type": "quantitative", "axis": null}, "y": {"datum": 0.722, "type": "quantitative", "axis": null}}},
  {"data": {"values": [{}]}, "mark": {"type": "point", "shape": "M-0.5,1L0.5,1L0,0Z", "filled": true, "color": "#000", "opacity": 1, "size": 1156, "strokeWidth": 0},
   "encoding": {"x": {"datum": 9.97, "type": "quantitative", "axis": null}, "y": {"datum": 0.736, "type": "quantitative", "axis": null}}},
  {"data": {"values": [{}]}, "mark": {"type": "point", "shape": "M-1,-0.45L-1,0.45L0,0Z", "filled": true, "color": "#000", "opacity": 1, "size": 1444, "strokeWidth": 0},
   "encoding": {"x": {"datum": 48.0, "type": "quantitative", "axis": null}, "y": {"datum": 0.3575, "type": "quantitative", "axis": null}}},
  {"data": {"values": [{}]}, "mark": {"type": "text", "text": "y = A – BX + CX²\u00a0 (Aggregate & Test Rail 1)", "align": "left", "baseline": "middle", "font": "DejaVu Sans", "fontSize": 28.5, "color": "#000"},
   "encoding": {"x": {"datum": 7.42, "type": "quantitative", "axis": null}, "y": {"datum": 1.137, "type": "quantitative", "axis": null}}},
  {"data": {"values": [{}]}, "mark": {"type": "text", "text": "Aggregate", "align": "center", "baseline": "middle", "font": "DejaVu Sans", "fontSize": 28, "color": "#000"},
   "encoding": {"x": {"datum": 5.0, "type": "quantitative", "axis": null}, "y": {"datum": 0.877, "type": "quantitative", "axis": null}}},
  {"data": {"values": [{}]}, "mark": {"type": "text", "text": "& Test Rail 1", "align": "center", "baseline": "middle", "font": "DejaVu Sans", "fontSize": 28, "color": "#000"},
   "encoding": {"x": {"datum": 5.0, "type": "quantitative", "axis": null}, "y": {"datum": 0.845, "type": "quantitative", "axis": null}}},
  {"data": {"values": [{}]}, "mark": {"type": "text", "text": "Test Rails", "align": "center", "baseline": "middle", "font": "DejaVu Sans", "fontSize": 28, "color": "#000"},
   "encoding": {"x": {"datum": 9.93, "type": "quantitative", "axis": null}, "y": {"datum": 0.637, "type": "quantitative", "axis": null}}},
  {"data": {"values": [{}]}, "mark": {"type": "text", "text": "3 & 4", "align": "center", "baseline": "middle", "font": "DejaVu Sans", "fontSize": 28, "color": "#000"},
   "encoding": {"x": {"datum": 9.93, "type": "quantitative", "axis": null}, "y": {"datum": 0.604, "type": "quantitative", "axis": null}}},
  {"data": {"values": [{}]}, "mark": {"type": "text", "text": "z* = D + EX – FX²", "align": "left", "baseline": "middle", "font": "DejaVu Sans", "fontSize": 28.5, "color": "#000"},
   "encoding": {"x": {"datum": 6.12, "type": "quantitative", "axis": null}, "y": {"datum": 0.539, "type": "quantitative", "axis": null}}},
  {"data": {"values": [{}]}, "mark": {"type": "text", "text": "X = %HA/100", "align": "left", "baseline": "middle", "font": "DejaVu Sans", "fontSize": 28.5, "color": "#000"},
   "encoding": {"x": {"datum": 5.19, "type": "quantitative", "axis": null}, "y": {"datum": 0.475, "type": "quantitative", "axis": null}}},
  {"data": {"values": [{}]}, "mark": {"type": "text", "text": "y = A – BX – CX²\u00a0 (Test Rails 3 & 4)", "align": "left", "baseline": "middle", "font": "DejaVu Sans", "fontSize": 28, "color": "#000"},
   "encoding": {"x": {"datum": 11.78, "type": "quantitative", "axis": null}, "y": {"datum": 0.359, "type": "quantitative", "axis": null}}}
]
}
